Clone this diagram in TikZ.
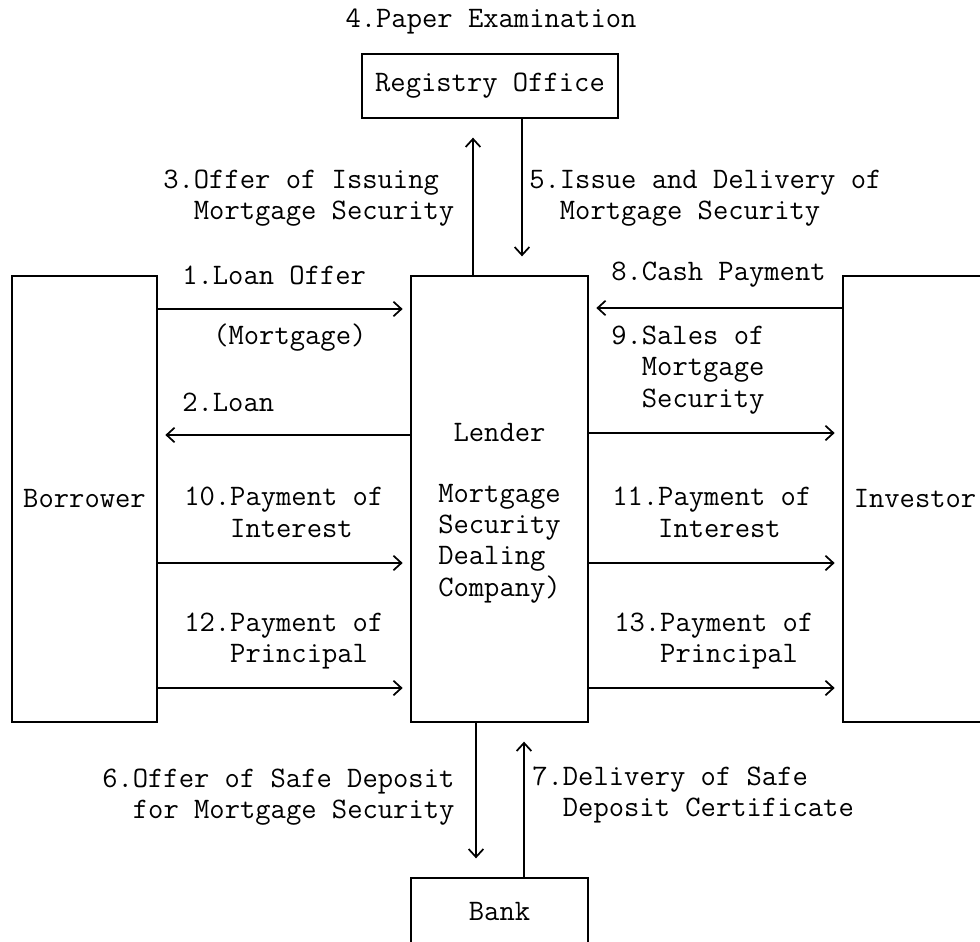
\documentclass[tikz,border=0pt]{standalone}
\usetikzlibrary{arrows.meta}
\begin{document}
\begin{tikzpicture}[x=0.75pt,y=-0.75pt,
  every node/.style={font=\ttfamily\fontsize{22.3pt}{23.4pt}\selectfont, inner sep=0pt},
  box/.style={draw, line width=1.5pt, rectangle},
  flow/.style={line width=1.5pt, -{Straight Barb[length=6pt,width=11pt,line width=1.3pt]}},
  hflow/.style={flow, shorten >=5.5pt},
  vflow/.style={flow, shorten >=14pt},
  lbl/.style={align=left, anchor=west},
]
\clip (0,0) rectangle (980,941);

% parties
\node[box, minimum width=256*0.75pt, minimum height=64*0.75pt] (reg) at (490,86) {Registry Office};
\node[box, minimum width=177*0.75pt, minimum height=446*0.75pt] (lender) at (499.5,499) {};
\node[box, minimum width=145*0.75pt, minimum height=446*0.75pt] (borrower) at (84.5,499) {Borrower};
\node[box, minimum width=144*0.75pt, minimum height=446*0.75pt] (investor) at (915,499) {Investor};
\node[box, minimum width=177*0.75pt, minimum height=67*0.75pt] (bank) at (499.5,911.5) {Bank};

% lender description
\node (lendername) at (499.5,433) {Lender};
\node[align=left] (lenderdesc) at (499.5,543.5) {Mortgage\\Security\\Dealing\\Company)};

% rows and columns of the flows
\coordinate (r1) at (0,309);
\coordinate (r2) at (0,435);
\coordinate (r8) at (0,308);
\coordinate (r9) at (0,433);
\coordinate (r10) at (0,563);
\coordinate (r12) at (0,688);
\coordinate (c3) at (473,0);
\coordinate (c5) at (522,0);
\coordinate (c6) at (476,0);
\coordinate (c7) at (524,0);

% flows
\draw[vflow] (lender.north -| c3) -- (reg.south -| c3);
\draw[vflow] (reg.south -| c5) -- (lender.north -| c5);
\draw[vflow] (lender.south -| c6) -- (bank.north -| c6);
\draw[vflow] (bank.north -| c7) -- (lender.south -| c7);
\draw[hflow] (borrower.east |- r1) -- (lender.west |- r1);
\draw[hflow] (lender.west |- r2) -- (borrower.east |- r2);
\draw[hflow] (borrower.east |- r10) -- (lender.west |- r10);
\draw[hflow] (borrower.east |- r12) -- (lender.west |- r12);
\draw[hflow] (investor.west |- r8) -- (lender.east |- r8);
\draw[hflow] (lender.east |- r9) -- (investor.west |- r9);
\draw[hflow] (lender.east |- r10) -- (investor.west |- r10);
\draw[hflow] (lender.east |- r12) -- (investor.west |- r12);

% flow labels
\node (l4) at (491,22) {4.Paper Examination};
\node[lbl] (l3) at (163,198) {3.Offer of Issuing\\\phantom{00}Mortgage Security};
\node[lbl] (l5) at (529,198) {5.Issue and Delivery of\\\phantom{00}Mortgage Security};
\node[lbl] (l1) at (182,275) {1.Loan Offer};
\node[lbl] (lm) at (213,338) {(Mortgage)};
\node[lbl] (l2) at (182,402) {2.Loan};
\node[lbl] (l10) at (184,512.5) {10.Payment of\\\phantom{000}Interest};
\node[lbl] (l12) at (184,641) {12.Payment of\\\phantom{000}Principal};
\node[lbl] (l8) at (611,275) {8.Cash Payment};
\node[lbl] (l9) at (611,370) {9.Sales of\\\phantom{00}Mortgage\\\phantom{00}Security};
\node[lbl] (l11) at (612,512.5) {11.Payment of\\\phantom{000}Interest};
\node[lbl] (l13) at (614,641) {13.Payment of\\\phantom{000}Principal};
\node[lbl] (l6) at (102,797) {6.Offer of Safe Deposit\\\phantom{00}for Mortgage Security};
\node[lbl] (l7) at (532,795) {7.Delivery of Safe\\\phantom{00}Deposit Certificate};
\end{tikzpicture}
\end{document}
